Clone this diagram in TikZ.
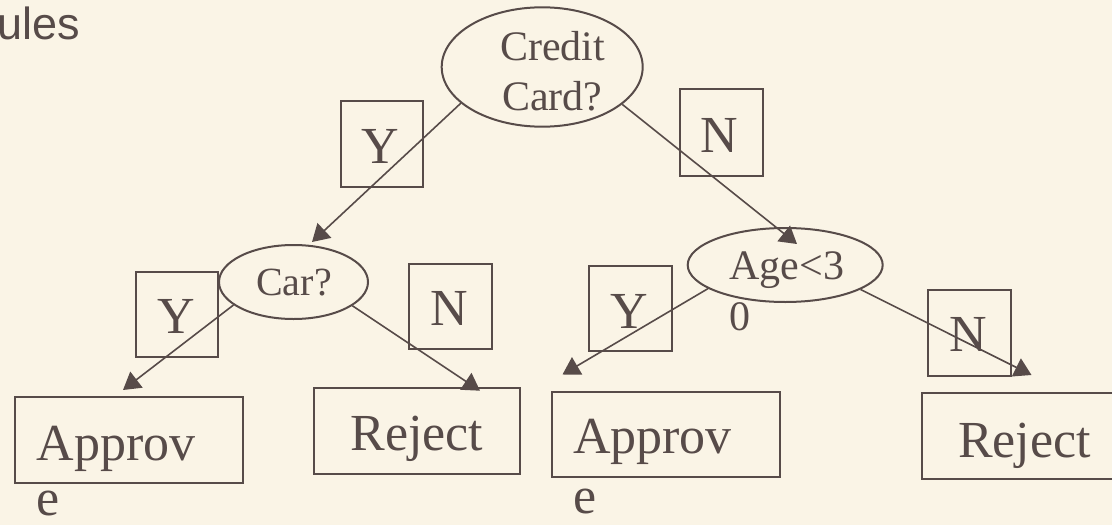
\documentclass[tikz,border=0pt]{standalone}
\usepackage{fontspec}
\setmainfont{Liberation Serif}
\newfontfamily\sansf{Liberation Sans}
\usetikzlibrary{arrows.meta,calc,shapes.geometric}
\definecolor{bgc}{RGB}{250,244,230}
\definecolor{ink}{RGB}{87,75,73}
% text placed by its centre (#1) and baseline raise (#2), taking no room
\newcommand\tx[3]{\rlap{\kern#1\raisebox{#2}[0pt][0pt]{\makebox[0pt]{#3}}}}
% text placed by its left edge (#1) and baseline raise (#2), taking no room
\newcommand\txl[3]{\rlap{\kern#1\raisebox{#2}[0pt][0pt]{#3}}}
\tikzset{
  oval/.style={ellipse, draw=ink, line width=2pt, inner sep=0pt, text=ink},
  box/.style={rectangle, draw=ink, line width=2pt, inner sep=0pt, text=ink},
  big/.style={font=\fontsize{52}{62}\selectfont},
  mid/.style={font=\fontsize{42}{50}\selectfont},
  conn/.style={draw=ink, line width=1.6pt, -{Triangle[length=17pt,width=20pt]}},
}
\begin{document}
\begin{tikzpicture}[x=1pt,y=-1pt]
\useasboundingbox (0,0) rectangle (1112,525);
\fill[bgc] (0,0) rectangle (1112,525);
\clip (0,0) rectangle (1112,525);

\node[anchor=base east, inner sep=0pt, text=ink, font=\sansf\fontsize{45}{50}\selectfont] (title) at (80.5,39) {ules};

% decision nodes
\node[oval, mid, minimum width=201pt, minimum height=119.4pt] (credit) at (542.2,67)
  {\tx{10.3pt}{7pt}{Credit}\tx{10pt}{-43pt}{Card?}};
\node[oval, font=\fontsize{40}{48}\selectfont, minimum width=149pt, minimum height=74pt] (car) at (293.5,282)
  {\tx{0.5pt}{-13pt}{Car?}};
\node[oval, mid, minimum width=195pt, minimum height=74pt] (age) at (785.2,265)
  {\txl{-55.6pt}{-14.3pt}{Age<3}\txl{-55.6pt}{-65pt}{0}};

% branch labels
\node[box, big, minimum width=82pt, minimum height=86pt] (y1) at (382,144) {\tx{-1.7pt}{-19.3pt}{Y}};
\node[box, big, minimum width=83pt, minimum height=87pt] (n1) at (721.5,132.5) {\tx{-2pt}{-20.2pt}{N}};
\node[box, big, minimum width=82pt, minimum height=85pt] (y2) at (177,314.5) {\tx{-1.2pt}{-18.8pt}{Y}};
\node[box, big, minimum width=82.4pt, minimum height=85.3pt] (n2) at (450.5,306.7) {\tx{-1.5pt}{-18.3pt}{N}};
\node[box, big, minimum width=82.7pt, minimum height=85pt] (y3) at (630.3,308.5) {\tx{-1.1pt}{-19.8pt}{Y}};
\node[box, big, minimum width=82.4pt, minimum height=86pt] (n3) at (969.5,333) {\tx{-0.8pt}{-18.7pt}{N}};

% leaves
\node[box, big, minimum width=227.5pt, minimum height=86pt] (apprL) at (129.2,439.7)
  {\txl{-92.7pt}{-20.3pt}{Approv}\txl{-92.7pt}{-75.3pt}{e}};
\node[box, big, minimum width=206pt, minimum height=86.3pt] (rejL) at (416.6,431.2)
  {\tx{0.3pt}{-18.8pt}{Reject}};
\node[box, big, minimum width=228pt, minimum height=85pt] (apprR) at (665.7,434.5)
  {\txl{-92.7pt}{-18.5pt}{Approv}\txl{-92.7pt}{-78.5pt}{e}};
\node[box, big, minimum width=206pt, minimum height=86pt] (rejR) at (1024.5,436)
  {\tx{0pt}{-21pt}{Reject}};

% connectors
\draw[conn] (credit.204.4) -- ($(car.center)+(18.5,-40)$);
\draw[conn] (credit.335.7) -- ($(age.center)+(11.8,-21)$);
\draw[conn] (car.201.6) -- ($(apprL.center)+(-6.2,-49.7)$);
\draw[conn] (car.338) -- ($(rejL.center)+(63.4,-40.5)$);
\draw[conn] (age.197.9) -- ($(apprR.center)+(-103.2,-60)$);
\draw[conn] (age.342.9) -- ($(rejR.center)+(7,-61)$);
\end{tikzpicture}
\end{document}
